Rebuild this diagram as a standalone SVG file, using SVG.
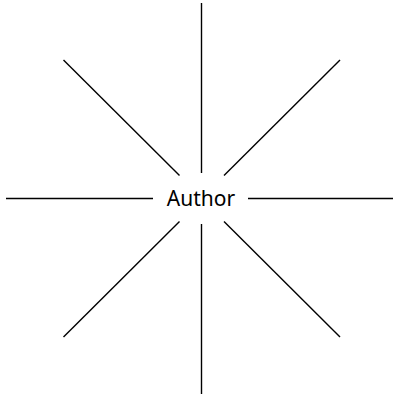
<svg xmlns="http://www.w3.org/2000/svg" width="394" height="396" viewBox="0 0 394 396">
<style>
.edge{stroke:#000;stroke-width:1.4;fill:none}
.label{font-family:"Noto Sans","Open Sans","DejaVu Sans",sans-serif;font-size:21px;fill:#000;text-anchor:middle}
</style>
<rect width="394" height="396" fill="#fff"/>
<g id="connectors">
<line class="edge" x1="6" y1="198.5" x2="153" y2="198.5"/>
<line class="edge" x1="248" y1="198.5" x2="393" y2="198.5"/>
<line class="edge" x1="201.5" y1="3" x2="201.5" y2="173"/>
<line class="edge" x1="201.5" y1="224" x2="201.5" y2="394"/>
<line class="edge" x1="63.5" y1="60" x2="179.5" y2="175.5"/>
<line class="edge" x1="340" y1="60" x2="224" y2="175.5"/>
<line class="edge" x1="63.5" y1="337" x2="179.5" y2="221.5"/>
<line class="edge" x1="340" y1="337" x2="224" y2="221.5"/>
</g>
<g id="node-author">
<text class="label" x="201" y="206">Author</text>
</g>
</svg>
